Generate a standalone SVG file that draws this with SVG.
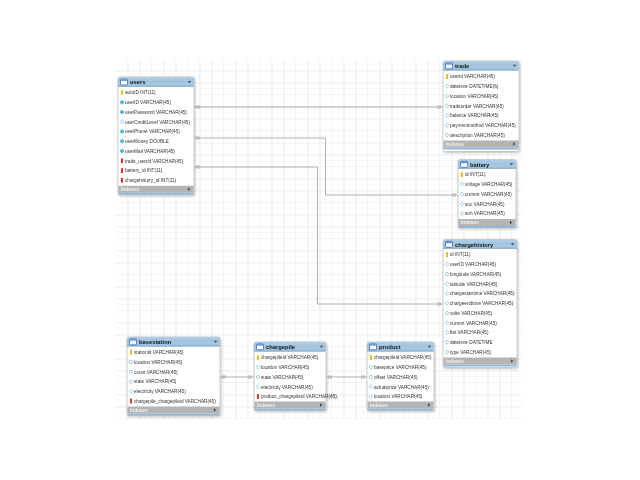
<svg xmlns="http://www.w3.org/2000/svg" xmlns:xlink="http://www.w3.org/1999/xlink" width="640" height="480" viewBox="0 0 640 480">
  <defs>
    <pattern id="gridMinor" x="116" y="59" width="6" height="6" patternUnits="userSpaceOnUse">
      <path d="M6 0V6M0 6H6" fill="none" stroke="#f2f2f2" stroke-width="0.6"/>
    </pattern>
    <pattern id="gridMajor" x="116" y="59" width="36" height="36" patternUnits="userSpaceOnUse">
      <path d="M12 0V36M24 0V36M36 0V36M0 12H36M0 24H36M0 36H36" fill="none" stroke="#e8e8e8" stroke-width="0.7"/>
    </pattern>
    <linearGradient id="hdrGrad" x1="0" y1="0" x2="0" y2="1">
      <stop offset="0" stop-color="#b3d0e6"/>
      <stop offset="1" stop-color="#8ab3d3"/>
    </linearGradient>
    <filter id="shadow" x="-10%" y="-10%" width="130%" height="130%">
      <feGaussianBlur in="SourceAlpha" stdDeviation="1"/>
      <feOffset dx="1" dy="1"/>
      <feComponentTransfer><feFuncA type="linear" slope="0.25"/></feComponentTransfer>
      <feMerge><feMergeNode/><feMergeNode in="SourceGraphic"/></feMerge>
    </filter>
    <!-- column icons -->
    <g id="pk"><rect x="-1" y="-2.6" width="2" height="5.2" rx="0.6" fill="#e8bf1c"/></g>
    <g id="fk"><rect x="-1" y="-2.6" width="2" height="5.2" rx="0.6" fill="#d8392c"/></g>
    <g id="nn"><path d="M0 -2.2L2.2 0L0 2.2L-2.2 0Z" fill="#49bcd6" stroke="#2f9fbb" stroke-width="0.4"/></g>
    <g id="col"><path d="M0 -2L2 0L0 2L-2 0Z" fill="#fff" stroke="#5aaec8" stroke-width="0.6"/></g>
    <g id="tblIcon">
      <rect x="0" y="0" width="7" height="6" rx="0.8" fill="#f4f8fc" stroke="#3d6fb0" stroke-width="0.8"/>
      <rect x="0.4" y="0.4" width="6.2" height="1.4" fill="#5c8fcf"/>
    </g>
    <path id="down" d="M-1.7 -1H1.7L0 1.2Z" fill="#4a4a4a"/>
    <path id="right" d="M-1 -1.7V1.7L1.3 0Z" fill="#4a4a4a"/>
  </defs>
  <style>
    .box { fill: #ffffff; stroke: #b9b9b9; stroke-width: 0.7; }
    .hdr { fill: url(#hdrGrad); }
    .title { font-family: "Liberation Sans", Arial, sans-serif; font-weight: bold; font-size: 5.8px; fill: #111; }
    .col { font-family: "Liberation Sans", Arial, sans-serif; font-size: 4.7px; fill: #333; }
    .idx { fill: #b4b4b4; }
    .idxt { font-family: "Liberation Sans", Arial, sans-serif; font-weight: bold; font-size: 4.8px; fill: #f2f2f2; }
    .strip { fill: #8fb7d6; }
    .conn { fill: none; stroke: #a8a8a8; stroke-width: 0.9; }
    .tick { fill: none; stroke: #8c8c8c; stroke-width: 0.6; }
  </style>

  <rect width="640" height="480" fill="#ffffff"/>
  <!-- canvas grid -->
  <rect x="116" y="59" width="406" height="361" fill="url(#gridMinor)"/>
  <rect x="116" y="59" width="406" height="361" fill="url(#gridMajor)"/>

  <!-- relationships -->
  <g id="connectors">
    <path class="conn" d="M194 107H443"/>
    <path class="conn" d="M194 138H325.5V195H458"/>
    <path class="conn" d="M194 167H317.5V304H443"/>
    <path class="conn" d="M220 377H254"/>
    <path class="conn" d="M326 377H367"/>
    <g class="tick">
      <path d="M197 105V109M199 105V109M438 105V109M440 105V109"/>
      <path d="M197 136V140M199 136V140M453 193V197M455 193V197"/>
      <path d="M197 165V169M199 165V169M438 302V306M440 302V306"/>
      <path d="M223 375V379M225 375V379M249 375V379M251 375V379"/>
      <path d="M329 375V379M331 375V379M362 375V379M364 375V379"/>
    </g>
  </g>

  <!-- users -->
  <g id="users" filter="url(#shadow)">
    <rect class="box" x="118" y="77" width="76" height="118" rx="2"/>
    <rect class="hdr" x="118" y="77" width="76" height="10" rx="2"/>
    <rect class="hdr" x="118" y="83" width="76" height="4"/>
    <use xlink:href="#tblIcon" x="120.5" y="79"/>
    <text class="title" x="130" y="84.3">users</text>
    <use xlink:href="#down" x="189.5" y="82"/>
    <use xlink:href="#pk" x="122" y="92.5"/><text class="col" x="125" y="94.3">autoID INT(11)</text>
    <use xlink:href="#nn" x="122" y="102.25"/><text class="col" x="125" y="104">userID VARCHAR(45)</text>
    <use xlink:href="#nn" x="122" y="112"/><text class="col" x="125" y="113.8">userPassword VARCHAR(45)</text>
    <use xlink:href="#col" x="122" y="121.75"/><text class="col" x="125" y="123.5">userCreditLevel VARCHAR(45)</text>
    <use xlink:href="#nn" x="122" y="131.5"/><text class="col" x="125" y="133.3">userPhone VARCHAR(45)</text>
    <use xlink:href="#nn" x="122" y="141.25"/><text class="col" x="125" y="143">userMoney DOUBLE</text>
    <use xlink:href="#nn" x="122" y="151"/><text class="col" x="125" y="152.8">userMail VARCHAR(45)</text>
    <use xlink:href="#fk" x="122" y="160.75"/><text class="col" x="125" y="162.5">trade_userid VARCHAR(45)</text>
    <use xlink:href="#fk" x="122" y="170.5"/><text class="col" x="125" y="172.3">battery_id INT(11)</text>
    <use xlink:href="#fk" x="122" y="180.25"/><text class="col" x="125" y="182">chargehistory_id INT(11)</text>
    <rect class="idx" x="118.4" y="185.8" width="75.2" height="7"/>
    <text class="idxt" x="121" y="191">Indexes</text>
    <use xlink:href="#right" x="189" y="189.3"/>
    <rect class="strip" x="118.4" y="192.8" width="75.2" height="2" rx="0.8"/>
  </g>

  <!-- trade -->
  <g id="trade" filter="url(#shadow)">
    <rect class="box" x="443" y="61" width="76" height="90.5" rx="2"/>
    <rect class="hdr" x="443" y="61" width="76" height="9.5" rx="2"/>
    <rect class="hdr" x="443" y="66.5" width="76" height="4"/>
    <use xlink:href="#tblIcon" x="445.5" y="62.8"/>
    <text class="title" x="455" y="68">trade</text>
    <use xlink:href="#down" x="514.5" y="65.8"/>
    <use xlink:href="#pk" x="447" y="76.5"/><text class="col" x="450" y="78.3">userid VARCHAR(45)</text>
    <use xlink:href="#col" x="447" y="86.25"/><text class="col" x="450" y="88">datetime DATETIME(6)</text>
    <use xlink:href="#col" x="447" y="96"/><text class="col" x="450" y="97.8">location VARCHAR(45)</text>
    <use xlink:href="#col" x="447" y="105.75"/><text class="col" x="450" y="107.5">tradeorder VARCHAR(45)</text>
    <use xlink:href="#col" x="447" y="115.5"/><text class="col" x="450" y="117.3">balance VARCHAR(45)</text>
    <use xlink:href="#col" x="447" y="125.25"/><text class="col" x="450" y="127">paymentmethod VARCHAR(45)</text>
    <use xlink:href="#col" x="447" y="135"/><text class="col" x="450" y="136.8">description VARCHAR(45)</text>
    <rect class="idx" x="443.4" y="140.5" width="75.2" height="7"/>
    <text class="idxt" x="446" y="145.7">Indexes</text>
    <use xlink:href="#right" x="514" y="144"/>
    <rect class="strip" x="443.4" y="147.5" width="75.2" height="2" rx="0.8"/>
  </g>

  <!-- battery -->
  <g id="battery" filter="url(#shadow)">
    <rect class="box" x="458" y="159.5" width="58" height="68.5" rx="2"/>
    <rect class="hdr" x="458" y="159.5" width="58" height="9.5" rx="2"/>
    <rect class="hdr" x="458" y="165" width="58" height="4"/>
    <use xlink:href="#tblIcon" x="460.5" y="161.3"/>
    <text class="title" x="470" y="166.5">battery</text>
    <use xlink:href="#down" x="511.5" y="164.3"/>
    <use xlink:href="#pk" x="462" y="174.5"/><text class="col" x="465" y="176.3">id INT(11)</text>
    <use xlink:href="#col" x="462" y="184.25"/><text class="col" x="465" y="186">voltage VARCHAR(45)</text>
    <use xlink:href="#col" x="462" y="194"/><text class="col" x="465" y="195.8">current VARCHAR(45)</text>
    <use xlink:href="#col" x="462" y="203.75"/><text class="col" x="465" y="205.5">soc VARCHAR(45)</text>
    <use xlink:href="#col" x="462" y="213.5"/><text class="col" x="465" y="215.3">soh VARCHAR(45)</text>
    <rect class="idx" x="458.4" y="219" width="57.2" height="7"/>
    <text class="idxt" x="461" y="224.2">Indexes</text>
    <use xlink:href="#right" x="511" y="222.5"/>
    <rect class="strip" x="458.4" y="226" width="57.2" height="2" rx="0.8"/>
  </g>

  <!-- chargehistory -->
  <g id="chargehistory" filter="url(#shadow)">
    <rect class="box" x="443" y="239.5" width="74" height="128" rx="2"/>
    <rect class="hdr" x="443" y="239.5" width="74" height="9.5" rx="2"/>
    <rect class="hdr" x="443" y="245" width="74" height="4"/>
    <use xlink:href="#tblIcon" x="445.5" y="241.3"/>
    <text class="title" x="455" y="246.5">chargehistory</text>
    <use xlink:href="#down" x="512.5" y="244.3"/>
    <use xlink:href="#pk" x="447" y="254.5"/><text class="col" x="450" y="256.3">id INT(11)</text>
    <use xlink:href="#col" x="447" y="264.25"/><text class="col" x="450" y="266">userID VARCHAR(45)</text>
    <use xlink:href="#col" x="447" y="274"/><text class="col" x="450" y="275.8">longitude VARCHAR(45)</text>
    <use xlink:href="#col" x="447" y="283.75"/><text class="col" x="450" y="285.5">latitude VARCHAR(45)</text>
    <use xlink:href="#col" x="447" y="293.5"/><text class="col" x="450" y="295.3">chargestarttime VARCHAR(45)</text>
    <use xlink:href="#col" x="447" y="303.25"/><text class="col" x="450" y="305">chargeendtime VARCHAR(45)</text>
    <use xlink:href="#col" x="447" y="313"/><text class="col" x="450" y="314.8">volte VARCHAR(45)</text>
    <use xlink:href="#col" x="447" y="322.75"/><text class="col" x="450" y="324.5">current VARCHAR(45)</text>
    <use xlink:href="#col" x="447" y="332.5"/><text class="col" x="450" y="334.3">flat VARCHAR(45)</text>
    <use xlink:href="#col" x="447" y="342.25"/><text class="col" x="450" y="344">datetime DATETIME</text>
    <use xlink:href="#col" x="447" y="352"/><text class="col" x="450" y="353.8">type VARCHAR(45)</text>
    <rect class="idx" x="443.4" y="357.5" width="73.2" height="7"/>
    <text class="idxt" x="446" y="362.7">Indexes</text>
    <use xlink:href="#right" x="512" y="361"/>
    <rect class="strip" x="443.4" y="364.5" width="73.2" height="2" rx="0.8"/>
  </g>

  <!-- basestation -->
  <g id="basestation" filter="url(#shadow)">
    <rect class="box" x="127" y="337" width="93" height="78.5" rx="2"/>
    <rect class="hdr" x="127" y="337" width="93" height="9.5" rx="2"/>
    <rect class="hdr" x="127" y="342.5" width="93" height="4"/>
    <use xlink:href="#tblIcon" x="129.5" y="338.8"/>
    <text class="title" x="139" y="344">basestation</text>
    <use xlink:href="#down" x="215.5" y="341.8"/>
    <use xlink:href="#pk" x="131" y="352.2"/><text class="col" x="134" y="354">stationid VARCHAR(45)</text>
    <use xlink:href="#col" x="131" y="362"/><text class="col" x="134" y="363.8">location VARCHAR(45)</text>
    <use xlink:href="#col" x="131" y="371.8"/><text class="col" x="134" y="373.6">count VARCHAR(45)</text>
    <use xlink:href="#col" x="131" y="381.5"/><text class="col" x="134" y="383.3">state VARCHAR(45)</text>
    <use xlink:href="#col" x="131" y="391.3"/><text class="col" x="134" y="393.1">electricity VARCHAR(45)</text>
    <use xlink:href="#fk" x="131" y="401"/><text class="col" x="134" y="402.8">chargepile_chargepileid VARCHAR(45)</text>
    <rect class="idx" x="127.4" y="406.5" width="92.2" height="7"/>
    <text class="idxt" x="130" y="411.7">Indexes</text>
    <use xlink:href="#right" x="215" y="410"/>
    <rect class="strip" x="127.4" y="413.5" width="92.2" height="2" rx="0.8"/>
  </g>

  <!-- chargepile -->
  <g id="chargepile" filter="url(#shadow)">
    <rect class="box" x="254" y="342" width="72" height="68.5" rx="2"/>
    <rect class="hdr" x="254" y="342" width="72" height="9.5" rx="2"/>
    <rect class="hdr" x="254" y="347.5" width="72" height="4"/>
    <use xlink:href="#tblIcon" x="256.5" y="343.8"/>
    <text class="title" x="266" y="349">chargepile</text>
    <use xlink:href="#down" x="321.5" y="346.8"/>
    <use xlink:href="#pk" x="258" y="357.5"/><text class="col" x="261" y="359.3">chargepileid VARCHAR(45)</text>
    <use xlink:href="#col" x="258" y="367.25"/><text class="col" x="261" y="369">location VARCHAR(45)</text>
    <use xlink:href="#col" x="258" y="377"/><text class="col" x="261" y="378.8">state VARCHAR(45)</text>
    <use xlink:href="#col" x="258" y="386.75"/><text class="col" x="261" y="388.5">electricity VARCHAR(45)</text>
    <use xlink:href="#fk" x="258" y="396.5"/><text class="col" x="261" y="398.3">product_chargepileid VARCHAR(45)</text>
    <rect class="idx" x="254.4" y="401.5" width="71.2" height="7"/>
    <text class="idxt" x="257" y="406.7">Indexes</text>
    <use xlink:href="#right" x="321" y="405"/>
    <rect class="strip" x="254.4" y="408.5" width="71.2" height="2" rx="0.8"/>
  </g>

  <!-- product -->
  <g id="product" filter="url(#shadow)">
    <rect class="box" x="367" y="342" width="67" height="68.5" rx="2"/>
    <rect class="hdr" x="367" y="342" width="67" height="9.5" rx="2"/>
    <rect class="hdr" x="367" y="347.5" width="67" height="4"/>
    <use xlink:href="#tblIcon" x="369.5" y="343.8"/>
    <text class="title" x="379" y="349">product</text>
    <use xlink:href="#down" x="429.5" y="346.8"/>
    <use xlink:href="#pk" x="371" y="357.5"/><text class="col" x="374" y="359.3">chargepileid VARCHAR(45)</text>
    <use xlink:href="#col" x="371" y="367.25"/><text class="col" x="374" y="369">baseprice VARCHAR(45)</text>
    <use xlink:href="#col" x="371" y="377"/><text class="col" x="374" y="378.8">offset VARCHAR(45)</text>
    <use xlink:href="#col" x="371" y="386.75"/><text class="col" x="374" y="388.5">actualprice VARCHAR(45)</text>
    <use xlink:href="#col" x="371" y="396.5"/><text class="col" x="374" y="398.3">location VARCHAR(45)</text>
    <rect class="idx" x="367.4" y="401.5" width="66.2" height="7"/>
    <text class="idxt" x="370" y="406.7">Indexes</text>
    <use xlink:href="#right" x="429" y="405"/>
    <rect class="strip" x="367.4" y="408.5" width="66.2" height="2" rx="0.8"/>
  </g>
</svg>
